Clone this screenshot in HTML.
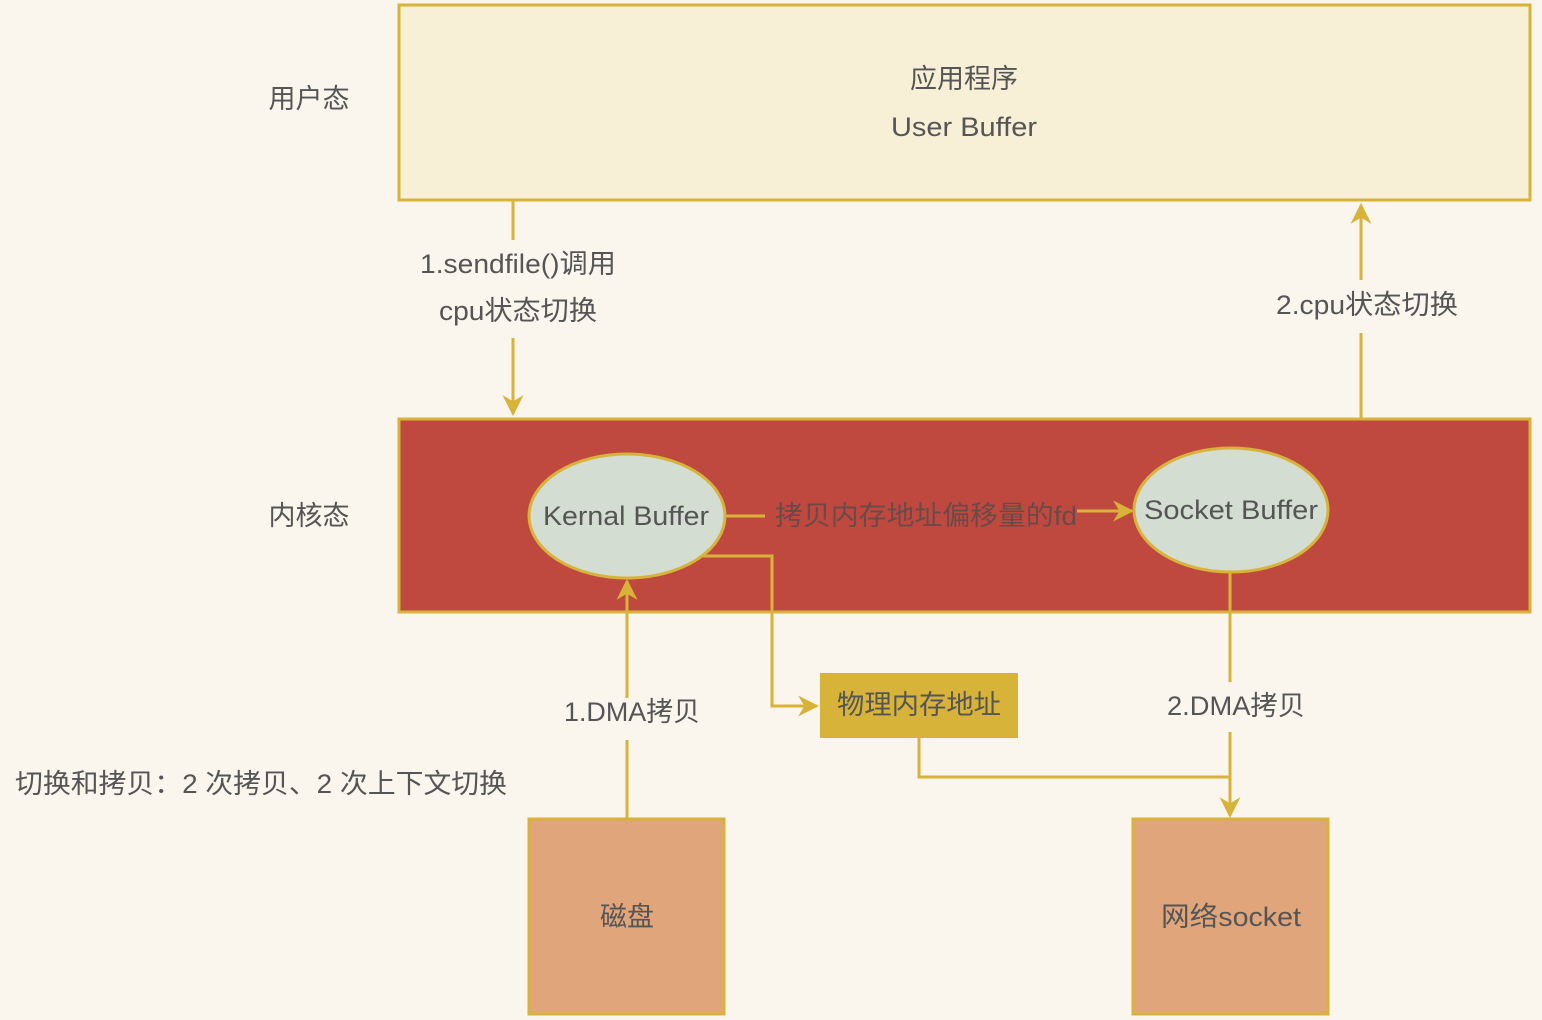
<!DOCTYPE html>
<html><head><meta charset="utf-8"><style>
html,body{margin:0;padding:0;background:#faf6ee;}
svg{display:block;}
text{font-family:"Liberation Sans","Noto Sans CJK SC",sans-serif;fill:#555;font-size:27px;}
</style></head><body>
<svg width="1542" height="1020" viewBox="0 0 1542 1020" xmlns="http://www.w3.org/2000/svg">
<defs>
<marker id="a" viewBox="0 0 10 10" refX="9" refY="5" markerWidth="7" markerHeight="7" orient="auto"><path d="M0,0 L10,5 L0,10 L3,5 z" fill="#d8b33a"/></marker>
</defs>
<rect width="1542" height="1020" fill="#faf6ee"/>
<rect x="399" y="5" width="1131" height="195" fill="#f7efd6" stroke="#d8b33a" stroke-width="3"/>
<text x="964" y="88" text-anchor="middle">应用程序</text>
<text x="964" y="136" text-anchor="middle" textLength="146" lengthAdjust="spacingAndGlyphs">User Buffer</text>
<text x="309" y="108" text-anchor="middle">用户态</text>
<text x="309" y="525" text-anchor="middle">内核态</text>
<rect x="399" y="419" width="1131" height="193" fill="#c0493f" stroke="#d8b33a" stroke-width="3"/>
<g stroke="#d8b33a" stroke-width="3" fill="none">
<line x1="513" y1="201" x2="513" y2="240"/>
<line x1="513" y1="338" x2="513" y2="414" marker-end="url(#a)"/>
<line x1="1361" y1="418" x2="1361" y2="333"/>
<line x1="1361" y1="280" x2="1361" y2="205" marker-end="url(#a)"/>
<line x1="725" y1="516" x2="765" y2="516"/>
<line x1="1077" y1="511" x2="1132" y2="511" marker-end="url(#a)"/>
<polyline points="703,556 772,556 772,706 817,706" marker-end="url(#a)"/>
<line x1="627" y1="818" x2="627" y2="740"/>
<line x1="627" y1="698" x2="627" y2="581" marker-end="url(#a)"/>
<line x1="1230" y1="573" x2="1230" y2="682"/>
<line x1="1230" y1="732" x2="1230" y2="816" marker-end="url(#a)"/>
<polyline points="919,738 919,777 1230,777"/>
</g>
<text x="518" y="273" text-anchor="middle" textLength="196" lengthAdjust="spacingAndGlyphs">1.sendfile()调用</text>
<text x="518" y="320" text-anchor="middle" textLength="158" lengthAdjust="spacingAndGlyphs">cpu状态切换</text>
<text x="1367" y="314" text-anchor="middle" textLength="182" lengthAdjust="spacingAndGlyphs">2.cpu状态切换</text>
<ellipse cx="627" cy="516" rx="98" ry="62" fill="#d4ddd2" stroke="#d8b33a" stroke-width="3"/>
<text x="626" y="525" text-anchor="middle" textLength="166" lengthAdjust="spacingAndGlyphs">Kernal Buffer</text>
<ellipse cx="1231" cy="510" rx="97" ry="62" fill="#d4ddd2" stroke="#d8b33a" stroke-width="3"/>
<text x="1231" y="519" text-anchor="middle" textLength="174" lengthAdjust="spacingAndGlyphs">Socket Buffer</text>
<text x="926" y="525" text-anchor="middle" style="fill:#6a4a48" textLength="302" lengthAdjust="spacingAndGlyphs">拷贝内存地址偏移量的fd</text>
<rect x="820" y="673" width="198" height="65" fill="#d8b33a"/>
<text x="919" y="714" text-anchor="middle" textLength="164" lengthAdjust="spacingAndGlyphs">物理内存地址</text>
<text x="632" y="721" text-anchor="middle" textLength="136" lengthAdjust="spacingAndGlyphs">1.DMA拷贝</text>
<text x="1236" y="715" text-anchor="middle" textLength="138" lengthAdjust="spacingAndGlyphs">2.DMA拷贝</text>
<text x="15" y="793" textLength="492" lengthAdjust="spacingAndGlyphs">切换和拷贝：2 次拷贝、2 次上下文切换</text>
<rect x="529" y="819" width="195" height="195" fill="#e0a57a" stroke="#d8b33a" stroke-width="3"/>
<text x="627" y="926" text-anchor="middle">磁盘</text>
<rect x="1133" y="819" width="195" height="195" fill="#e0a57a" stroke="#d8b33a" stroke-width="3"/>
<text x="1231" y="926" text-anchor="middle" textLength="140" lengthAdjust="spacingAndGlyphs">网络socket</text>
</svg>
</body></html>
